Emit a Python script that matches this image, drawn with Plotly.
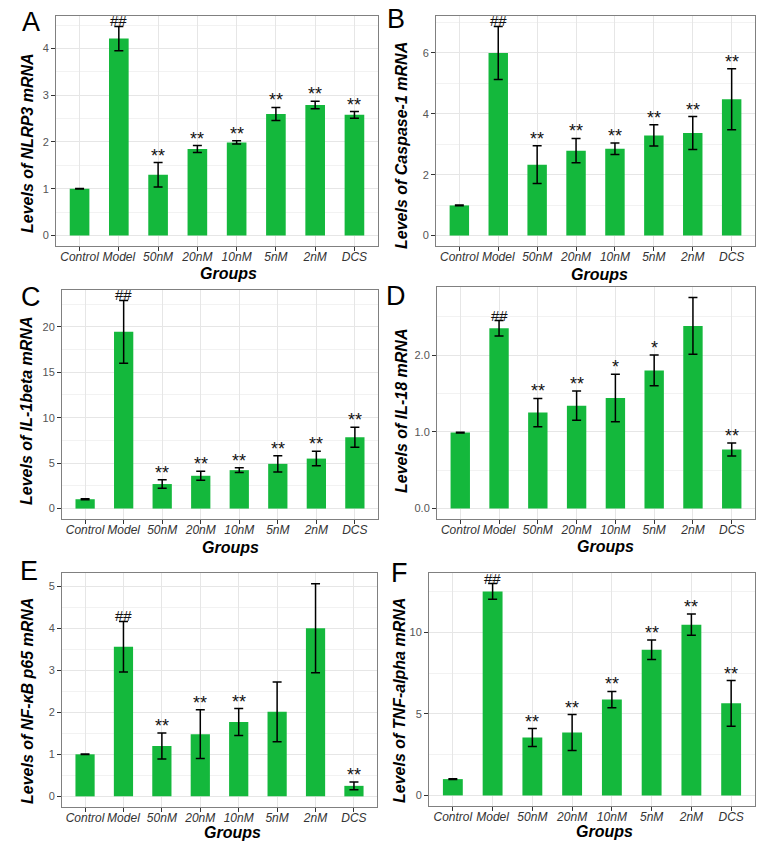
import plotly.graph_objects as go

groups = ["Control", "Model", "50nM", "20nM", "10nM", "5nM", "2nM", "DCS"]

nlrp3_mean = [1.00, 4.21, 1.30, 1.85, 1.99, 2.60, 2.79, 2.58]
nlrp3_sd = [0.005, 0.26, 0.26, 0.075, 0.035, 0.14, 0.08, 0.07]
nlrp3_sig = ["", "##", "**", "**", "**", "**", "**", "**"]

casp1_mean = [0.99, 6.00, 2.33, 2.79, 2.85, 3.29, 3.37, 4.48]
casp1_sd = [0.01, 0.87, 0.62, 0.40, 0.19, 0.35, 0.54, 1.00]
casp1_sig = ["", "##", "**", "**", "**", "**", "**", "**"]

il1b_mean = [1.03, 19.45, 2.70, 3.61, 4.23, 4.92, 5.50, 7.84]
il1b_sd = [0.05, 3.45, 0.47, 0.50, 0.25, 0.90, 0.80, 1.10]
il1b_sig = ["", "##", "**", "**", "**", "**", "**", "**"]

il18_mean = [0.99, 2.35, 1.25, 1.34, 1.44, 1.80, 2.38, 0.77]
il18_sd = [0.005, 0.10, 0.185, 0.19, 0.31, 0.20, 0.37, 0.085]
il18_sig = ["", "##", "**", "**", "*", "*", "", "**"]

nfkb_mean = [1.00, 3.56, 1.20, 1.48, 1.77, 2.01, 4.00, 0.25]
nfkb_sd = [0.005, 0.60, 0.31, 0.58, 0.32, 0.71, 1.06, 0.09]
nfkb_sig = ["", "##", "**", "**", "**", "", "", "**"]

tnfa_mean = [1.00, 12.52, 3.55, 3.86, 5.88, 8.94, 10.48, 5.65]
tnfa_sd = [0.02, 0.48, 0.55, 1.10, 0.50, 0.60, 0.65, 1.40]
tnfa_sig = ["", "##", "**", "**", "**", "**", "**", "**"]

panels = [
    dict(letter="A", ytitle="Levels of NLRP3 mRNA", mean=nlrp3_mean, sd=nlrp3_sd, sig=nlrp3_sig,
         dtick=1, fmt="", xd=(56, 378), yd=(16, 246), lpos=(31, 22), yt=(28, 143), xt=(228, 273)),
    dict(letter="B", ytitle="Levels of Caspase-1 mRNA", mean=casp1_mean, sd=casp1_sd, sig=casp1_sig,
         dtick=2, fmt="", xd=(436, 755), yd=(16, 246), lpos=(396, 19), yt=(401, 146), xt=(599, 274)),
    dict(letter="C", ytitle="Levels of IL-1beta mRNA", mean=il1b_mean, sd=il1b_sd, sig=il1b_sig,
         dtick=5, fmt="", xd=(62, 378), yd=(290, 519), lpos=(31, 297), yt=(26, 411), xt=(230, 547)),
    dict(letter="D", ytitle="Levels of IL-18 mRNA", mean=il18_mean, sd=il18_sd, sig=il18_sig,
         dtick=1, fmt=".1f", xd=(437, 755), yd=(287, 519), lpos=(396, 296), yt=(401, 411), xt=(605, 546)),
    dict(letter="E", ytitle="Levels of NF-κB p65 mRNA", mean=nfkb_mean, sd=nfkb_sd, sig=nfkb_sig,
         dtick=1, fmt="", xd=(62, 377), yd=(573, 807), lpos=(29, 571), yt=(27, 701), xt=(232, 832)),
    dict(letter="F", ytitle="Levels of TNF-alpha mRNA", mean=tnfa_mean, sd=tnfa_sd, sig=tnfa_sig,
         dtick=5, fmt="", xd=(429, 755), yd=(573, 806), lpos=(399, 573), yt=(399, 701), xt=(604, 831)),
]

W, H = 768, 847
FONT = "Liberation Sans, Arial, Helvetica, sans-serif"
GREEN = "#14B83C"
GRID = "#E6E6E6"
TITLE_FONT = dict(family=FONT, size=16, color="black", weight="bold", style="italic")

fig = go.Figure()
annotations = []
layout = {}

for i, p in enumerate(panels, start=1):
    xa = "x" if i == 1 else f"x{i}"
    ya = "y" if i == 1 else f"y{i}"
    tops = [m + s for m, s in zip(p["mean"], p["sd"])]
    ymax = max(tops)
    pad = 0.05 * ymax
    fig.add_trace(go.Bar(
        x=groups, y=p["mean"], xaxis=xa, yaxis=ya, width=0.5,
        marker=dict(color=GREEN, line=dict(width=0)),
        error_y=dict(type="data", array=p["sd"], visible=True, color="black",
                     thickness=1.5, width=4.5),
        showlegend=False,
    ))
    x0, x1 = p["xd"]
    y0, y1 = p["yd"]
    xkey = "xaxis" if i == 1 else f"xaxis{i}"
    ykey = "yaxis" if i == 1 else f"yaxis{i}"
    layout[xkey] = dict(
        domain=[x0 / W, x1 / W], anchor=ya, type="category",
        categoryorder="array", categoryarray=groups, range=[-0.6, 7.6],
        showgrid=True, gridcolor=GRID, gridwidth=1,
        showline=True, mirror=True, linecolor="#808080", linewidth=1,
        ticks="outside", ticklen=4, tickcolor="#333333", tickwidth=1,
        tickangle=0, ticklabelstandoff=-4,
        tickfont=dict(family=FONT, size=12, color="#333333", style="italic"),
        zeroline=False, fixedrange=True,
    )
    layout[ykey] = dict(
        domain=[1 - y1 / H, 1 - y0 / H], anchor=xa,
        range=[-pad, ymax + pad], dtick=p["dtick"], tick0=0, tickformat=p["fmt"],
        showgrid=True, gridcolor=GRID, gridwidth=1,
        minor=dict(showgrid=True, gridcolor="#F2F2F2", gridwidth=1, dtick=p["dtick"] / 2, tick0=0),
        showline=True, mirror=True, linecolor="#808080", linewidth=1,
        ticks="outside", ticklen=4, tickcolor="#333333", tickwidth=1,
        tickfont=dict(family=FONT, size=11, color="#555555"),
        zeroline=False, fixedrange=True,
    )
    # significance marks
    for g, t, s in zip(groups, tops, p["sig"]):
        if not s:
            continue
        is_hash = s.startswith("#")
        annotations.append(dict(
            x=g, y=t, xref=xa, yref=ya, text=s, showarrow=False,
            yanchor="bottom", yshift=-5,
            font=dict(family=FONT, size=15 if is_hash else 18, color="#111111"),
        ))
    # axis titles
    tx, ty = p["yt"]
    annotations.append(dict(
        x=tx / W, y=1 - ty / H, xref="paper", yref="paper", text=p["ytitle"],
        showarrow=False, textangle=-90, xanchor="center", yanchor="middle",
        font=TITLE_FONT,
    ))
    gx, gy = p["xt"]
    annotations.append(dict(
        x=gx / W, y=1 - gy / H, xref="paper", yref="paper", text="Groups",
        showarrow=False, xanchor="center", yanchor="middle", font=TITLE_FONT,
    ))
    # panel letter
    lx, ly = p["lpos"]
    annotations.append(dict(
        x=lx / W, y=1 - ly / H, xref="paper", yref="paper", text=p["letter"],
        showarrow=False, xanchor="center", yanchor="middle",
        font=dict(family=FONT, size=27, color="black"),
    ))

fig.update_layout(
    width=W, height=H, margin=dict(l=0, r=0, t=0, b=0),
    paper_bgcolor="white", plot_bgcolor="white", showlegend=False,
    bargap=0.5, annotations=annotations, **layout,
)

fig.write_html(
    "out.html",
    config={"displayModeBar": False},
    post_script="document.body.style.margin='0';document.body.style.overflow='hidden';",
)
